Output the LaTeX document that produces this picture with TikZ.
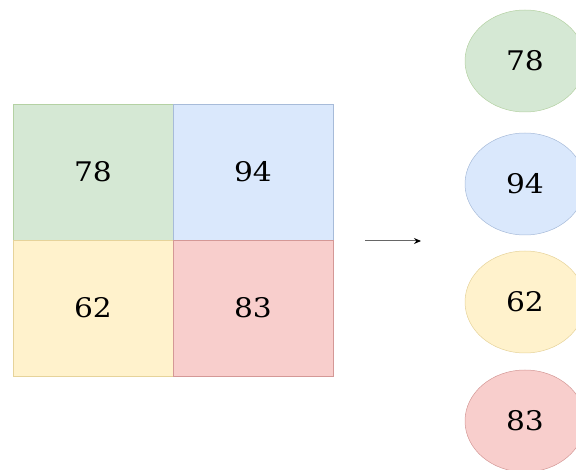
\documentclass[tikz,border=0pt]{standalone}
\usepackage{fontspec}
\setmainfont{DejaVu Serif}[FakeStretch=1.1]
\usetikzlibrary{shapes.geometric,arrows.meta}
\definecolor{gfill}{HTML}{D5E8D4}\definecolor{gline}{HTML}{82B366}
\definecolor{bfill}{HTML}{DAE8FC}\definecolor{bline}{HTML}{6C8EBF}
\definecolor{yfill}{HTML}{FFF2CC}\definecolor{yline}{HTML}{D6B656}
\definecolor{rfill}{HTML}{F8CECC}\definecolor{rline}{HTML}{B85450}
\tikzset{
  cell/.style={rectangle, minimum width=160pt, minimum height=136pt, inner sep=0pt, line width=0.6pt, font=\fontsize{27}{30}\selectfont},
  oval/.style={ellipse, minimum width=120pt, minimum height=102pt, inner sep=0pt, line width=0.5pt, font=\fontsize{27}{30}\selectfont},
  green/.style={fill=gfill, draw=gline!60},
  blue/.style={fill=bfill, draw=bline!60},
  yellow/.style={fill=yfill, draw=yline!60},
  red/.style={fill=rfill, draw=rline!60},
  conn/.style={draw=black!60, line width=1pt, -{Stealth[length=7pt,width=6pt,black]}}
}
\begin{document}
\begin{tikzpicture}[x=1pt,y=-1pt]
\useasboundingbox (0,0) rectangle (576,470);
\node[cell,green] (c78) at (93,172) {78};
\node[cell,blue] (c94) at (253,172) {94};
\node[cell,yellow] (c62) at (93,308) {62};
\node[cell,red] (c83) at (253,308) {83};
\coordinate (a1) at (365,241);
\coordinate (a2) at (421,241);
\draw[conn] (a1) -- (a2);
\node[oval,green] (e78) at (525,61) {78};
\node[oval,blue] (e94) at (525,184) {94};
\node[oval,yellow] (e62) at (525,302) {62};
\node[oval,red] (e83) at (525,421) {83};
\end{tikzpicture}
\end{document}
